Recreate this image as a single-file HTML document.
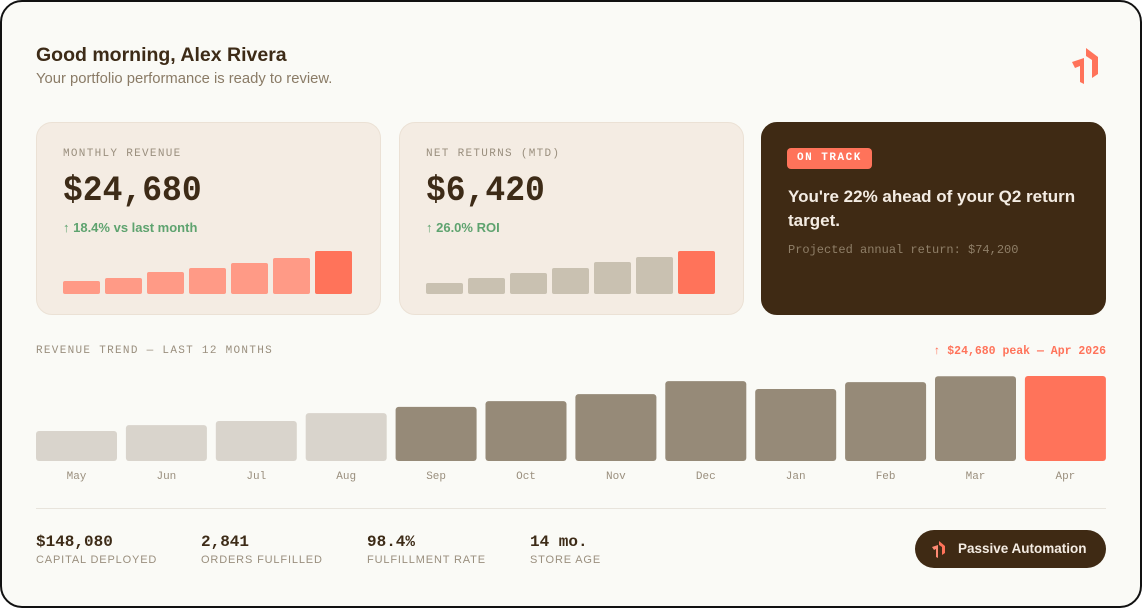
<!DOCTYPE html>
<html><head><meta charset="utf-8">
<style>
*{box-sizing:border-box;margin:0;padding:0}
body{width:1142px;height:608px;background:#fff;font-family:"Liberation Sans",sans-serif;overflow:hidden}
.frame{position:absolute;left:0;top:0;width:1142px;height:608px;border:2px solid #111;border-radius:22px;background:#fafaf6}
.abs{position:absolute}
.mono{font-family:"Liberation Mono",monospace}
.card{position:absolute;top:122px;width:345px;height:193px;border-radius:16px;background:#f4ece3;border:1px solid #ebe1d5}
.lbl{position:absolute;left:26px;top:25px;font-size:11px;letter-spacing:1.3px;color:#9a8f7e}
.big{position:absolute;left:26px;top:48px;font-size:33px;font-weight:bold;color:#3d2b17;transform:scaleY(1.08);transform-origin:top left}
.chg{position:absolute;left:26px;top:97px;font-size:13px;font-weight:bold;color:#5ea36f}
.stat{position:absolute;top:533px}
.stat .v{font-size:16px;font-weight:bold;color:#3d2b17}
.stat .l{font-size:11px;letter-spacing:.85px;color:#9a8f7e;margin-top:3px}
</style></head><body>
<div class="frame"></div>
<div class="abs" style="left:36px;top:44px;font-size:19.5px;font-weight:bold;color:#3d2b17">Good morning, Alex Rivera</div>
<div class="abs" style="left:36px;top:71px;font-size:14.8px;color:#8a7b66">Your portfolio performance is ready to review.</div>
<svg class="abs" style="left:1068px;top:44px" width="34" height="44">
<polygon points="4,18 16,14 16,40 12,38 12,22 7,24" fill="#ff735a"/>
<polygon points="18,4 30,13 30,30 24,34 24,16 18,12" fill="#ff735a"/>
</svg>

<div class="card" style="left:36px">
<div class="lbl mono">MONTHLY REVENUE</div>
<div class="big mono">$24,680</div>
<div class="chg">↑ 18.4% vs last month</div>
<svg id="mini1" class="abs" style="left:26px;top:120px" width="292" height="52"></svg>
</div>
<div class="card" style="left:399px">
<div class="lbl mono">NET RETURNS (MTD)</div>
<div class="big mono">$6,420</div>
<div class="chg">↑ 26.0% ROI</div>
<svg id="mini2" class="abs" style="left:26px;top:120px" width="292" height="52"></svg>
</div>
<div class="card" style="left:761px;background:#3f2a14;border-color:#3f2a14">
<div class="abs mono" style="left:25px;top:25px;background:#ff735a;color:#fff;font-size:11px;font-weight:bold;letter-spacing:1.5px;padding:4px 10px 5px;border-radius:4px">ON TRACK</div>
<div class="abs" style="left:26px;top:62px;width:310px;font-size:17px;font-weight:bold;line-height:24px;color:#f4ece3">You're 22% ahead of your Q2 return target.</div>
<div class="abs mono" style="left:26px;top:120px;font-size:12px;color:#8f7f68">Projected annual return: $74,200</div>
</div>

<div class="abs mono" style="left:36px;top:345px;font-size:11px;letter-spacing:1.3px;color:#9a8f7e">REVENUE TREND — LAST 12 MONTHS</div>
<div class="abs mono" style="right:36px;top:345px;font-size:11.5px;font-weight:bold;color:#ff735a">↑ $24,680 peak — Apr 2026</div>
<svg id="main" class="abs" style="left:36px;top:360px" width="1070" height="130"></svg>

<div class="abs" style="left:36px;top:508px;width:1070px;height:1px;background:#e8e4dc"></div>
<div class="stat" style="left:36px"><div class="v mono">$148,080</div><div class="l">CAPITAL DEPLOYED</div></div>
<div class="stat" style="left:201px"><div class="v mono">2,841</div><div class="l">ORDERS FULFILLED</div></div>
<div class="stat" style="left:367px"><div class="v mono">98.4%</div><div class="l">FULFILLMENT RATE</div></div>
<div class="stat" style="left:530px"><div class="v mono">14 mo.</div><div class="l">STORE AGE</div></div>
<div class="abs" style="left:915px;top:530px;width:191px;height:38px;border-radius:19px;background:#3f2a14;color:#f4ece3;font-size:13.5px;font-weight:bold;line-height:38px;padding-left:43px">Passive Automation
<svg class="abs" style="left:16px;top:11px" width="16" height="18"><polygon points="1,6 7,4 7,17 5,16 5,8 3,9" fill="#ff8a74"/><polygon points="8,0 14,5 14,12 11,14 11,6 8,4" fill="#ff735a"/></svg>
</div>

<script>
const months=["May","Jun","Jul","Aug","Sep","Oct","Nov","Dec","Jan","Feb","Mar","Apr"];
const revenue=[8700,10400,11600,13900,15700,17400,19400,23200,20900,22900,24600,24680];
const mini1Values=[13,16,22,26,31,36,43];
const mini2Values=[11,16,21,26,32,37,43];
const NS="http://www.w3.org/2000/svg";
function mk(t,a){const e=document.createElementNS(NS,t);for(const k in a)e.setAttribute(k,a[k]);return e;}
const svg=document.getElementById('main');
const base=101,maxH=85,maxV=Math.max(...revenue),step=89.9,bw=81;
const x=i=>i*step, y=v=>v/maxV*maxH;
revenue.forEach((v,i)=>{
  const h=y(v);
  const col=i===revenue.length-1?"#ff735a":(i<4?"#d9d4cc":"#968a78");
  const r=mk('rect',{x:x(i),y:base-h,width:bw,height:h,rx:3,fill:col});
  
  
  svg.appendChild(r);
  const t=mk('text',{x:x(i)+bw/2,y:119,'text-anchor':'middle','font-family':'Liberation Mono, monospace','font-size':11,fill:'#9a8f7e'});
  t.textContent=months[i];
  
  
  svg.appendChild(t);
});
function mini(id,vals,col){
  const s=document.getElementById(id);
  const mx=Math.max(...vals);
  vals.forEach((v,i)=>{
    const h=v/mx*43;
    const r=mk('rect',{x:i*42,y:51-h,width:37,height:h,rx:2,fill:i===vals.length-1?"#ff735a":col});
    
    
    s.appendChild(r);
  });
}
mini('mini1',mini1Values,"#ff9a86");
mini('mini2',mini2Values,"#c9c1b1");
</script>
</body></html>
